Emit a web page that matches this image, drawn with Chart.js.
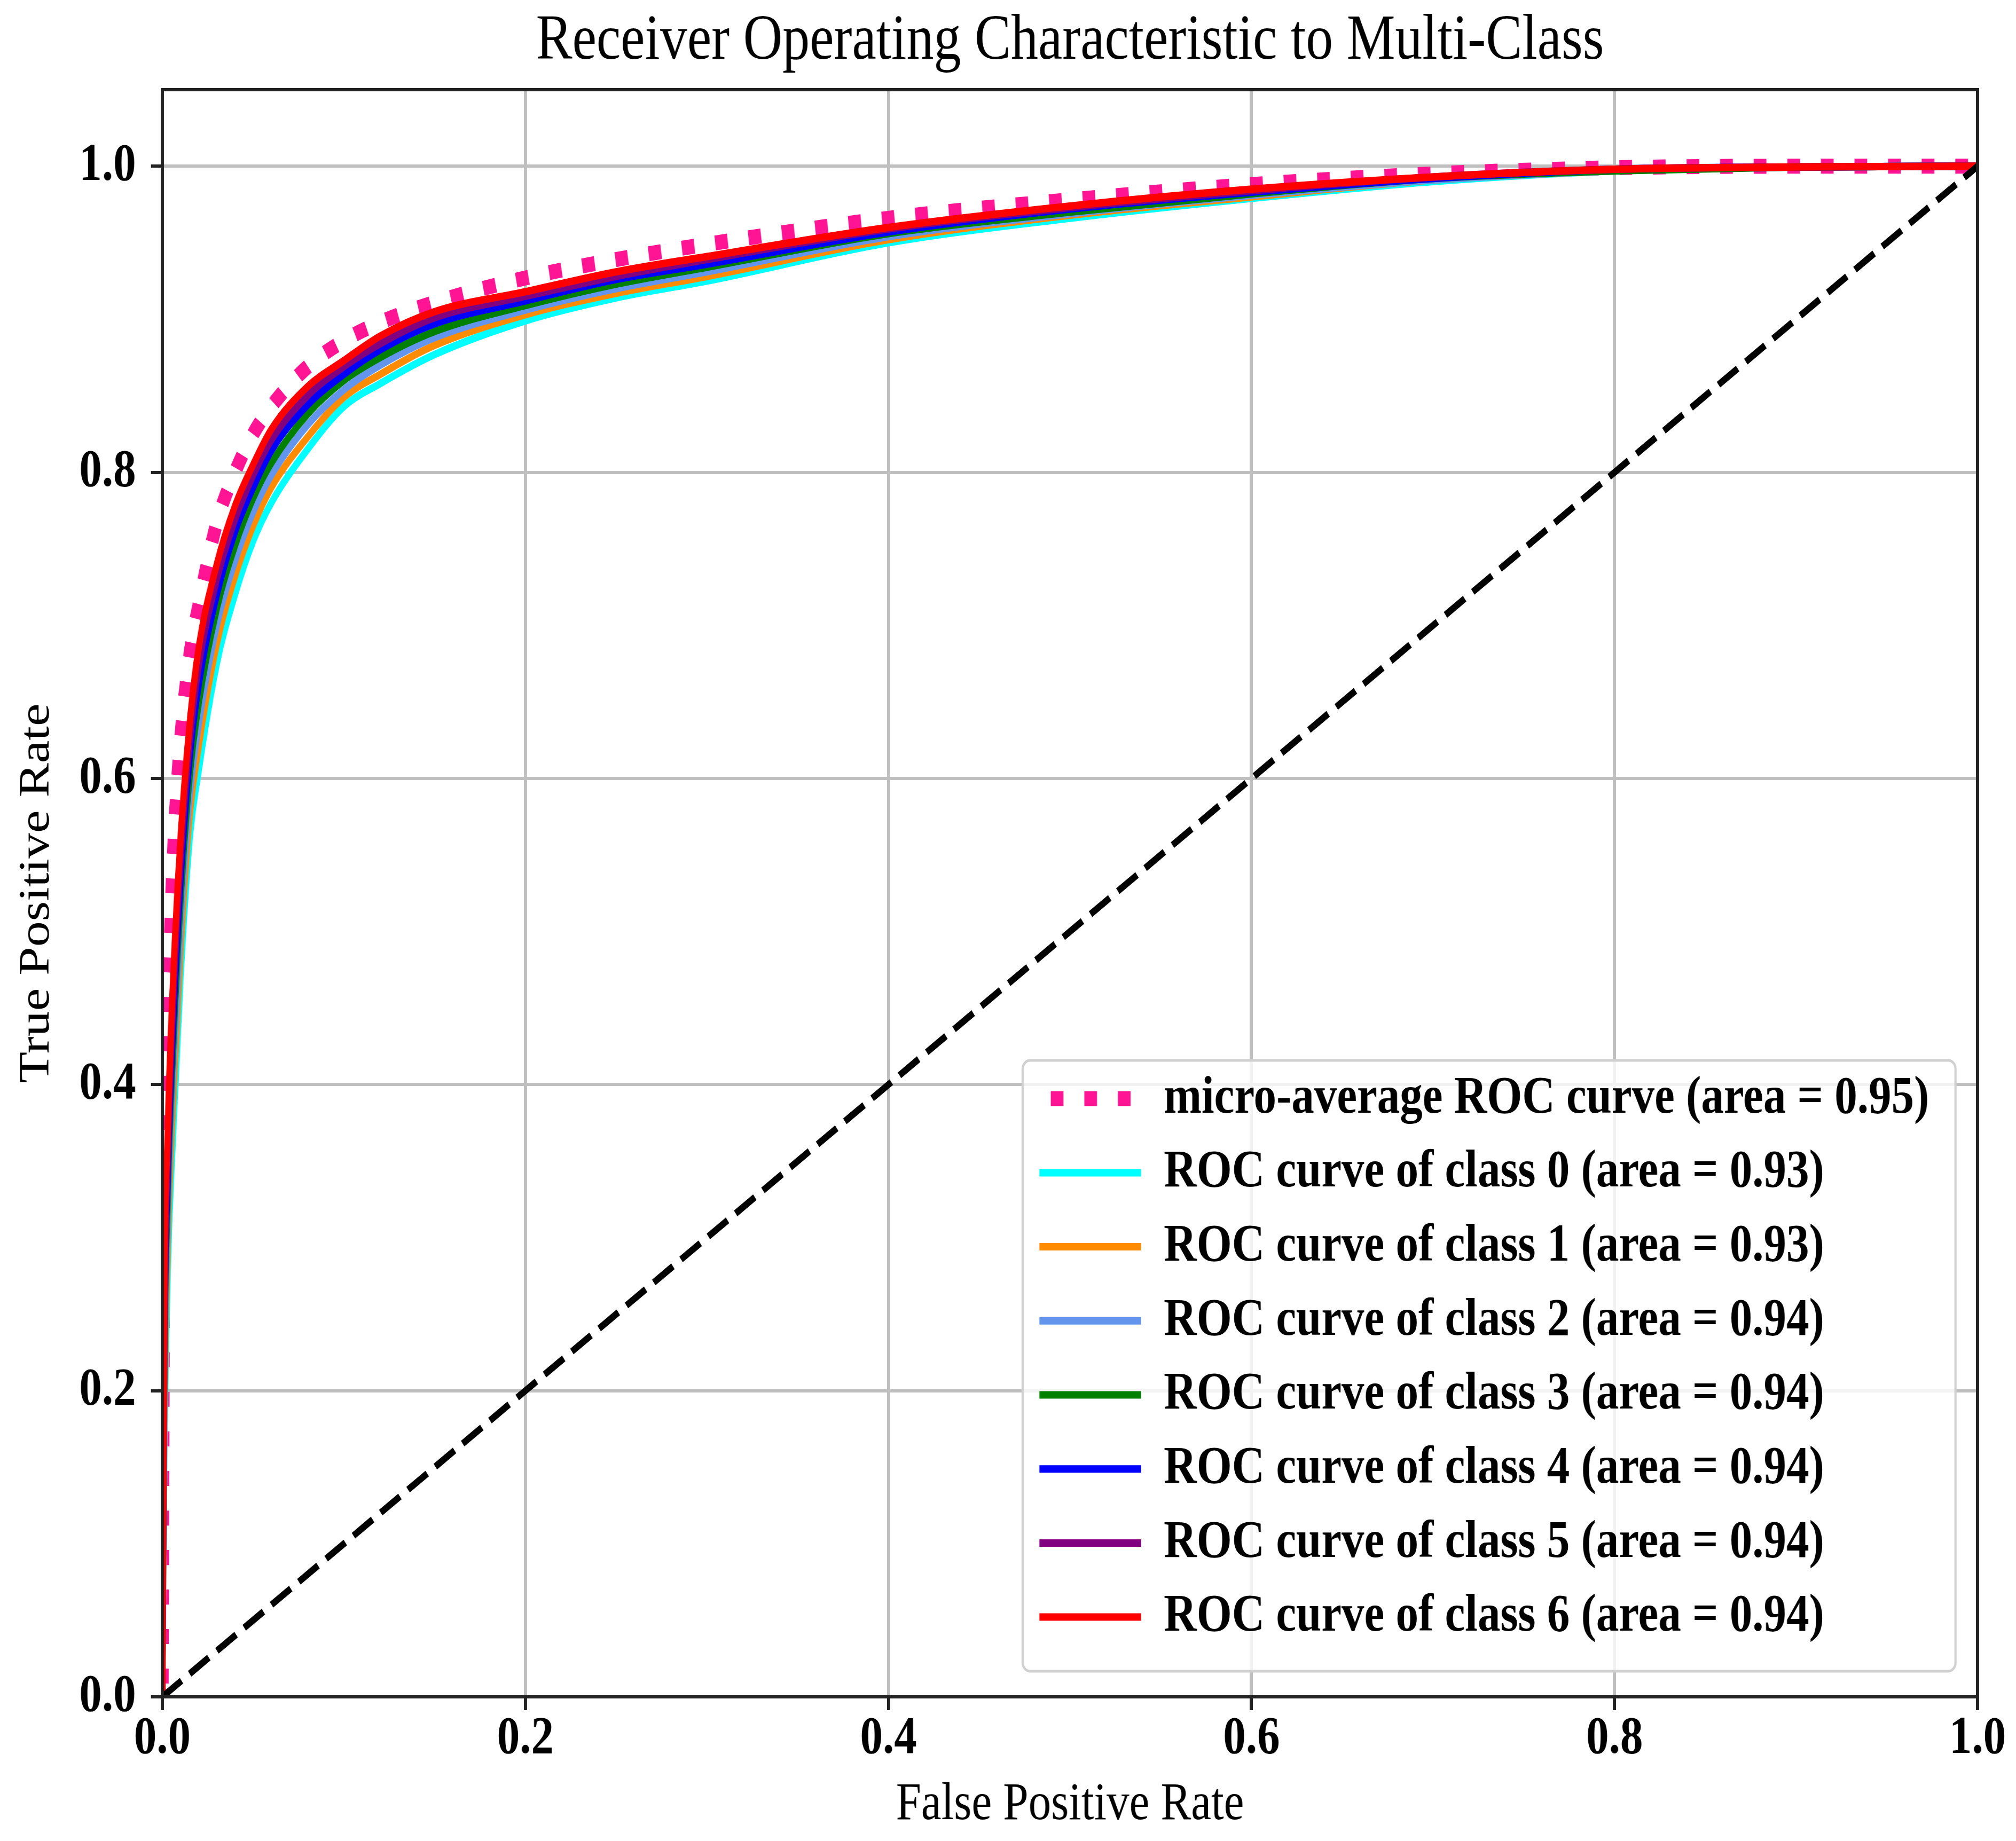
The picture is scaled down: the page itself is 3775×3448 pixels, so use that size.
<!DOCTYPE html>
<html>
<head>
<meta charset="utf-8">
<script src="https://cdn.jsdelivr.net/npm/chart.js@4.4.1/dist/chart.umd.min.js"></script>
<style>
html, body { margin: 0; padding: 0; background: #ffffff; overflow: hidden; width: 3775px; height: 3448px; }
#c { display: block; transform: scaleX(0.85); transform-origin: 0 0; }
</style>
</head>
<body>
<canvas id="c" width="4441" height="3448"></canvas>
<script>
// ---------------- data ----------------
const fpr = [0, 0.001, 0.003, 0.006, 0.01, 0.015, 0.02, 0.03, 0.04, 0.05, 0.06, 0.08, 0.1, 0.12, 0.15, 0.2, 0.25, 0.3, 0.4, 0.5, 0.6, 0.7, 0.8, 0.9, 1.0];

const tprMicro  = [0, 0.35, 0.45, 0.55, 0.625, 0.68, 0.713, 0.767, 0.8, 0.825, 0.843, 0.869, 0.886, 0.898, 0.911, 0.927, 0.939, 0.949, 0.966, 0.978, 0.988, 0.995, 0.999, 1.0, 1.0];
const tprClass0 = [0, 0.15, 0.28, 0.37, 0.47, 0.56, 0.605, 0.675, 0.72, 0.755, 0.78, 0.815, 0.843, 0.858, 0.877, 0.899, 0.914, 0.925, 0.950, 0.966, 0.979, 0.990, 0.997, 0.9995, 1.0];
const tprClass1 = [0, 0.17, 0.298, 0.39, 0.488, 0.575, 0.621, 0.688, 0.732, 0.765, 0.79, 0.823, 0.849, 0.864, 0.883, 0.903, 0.917, 0.928, 0.952, 0.968, 0.980, 0.991, 0.997, 0.9995, 1.0];
const tprClass2 = [0, 0.188, 0.314, 0.408, 0.504, 0.588, 0.635, 0.70, 0.742, 0.774, 0.798, 0.831, 0.854, 0.87, 0.888, 0.906, 0.92, 0.931, 0.954, 0.969, 0.981, 0.991, 0.997, 0.9995, 1.0];
const tprClass3 = [0, 0.205, 0.33, 0.425, 0.52, 0.601, 0.649, 0.711, 0.752, 0.783, 0.806, 0.838, 0.86, 0.875, 0.892, 0.909, 0.923, 0.934, 0.956, 0.970, 0.982, 0.992, 0.997, 0.9995, 1.0];
const tprClass4 = [0, 0.22, 0.343, 0.44, 0.533, 0.613, 0.661, 0.72, 0.761, 0.79, 0.814, 0.844, 0.864, 0.88, 0.897, 0.912, 0.926, 0.936, 0.957, 0.972, 0.983, 0.992, 0.998, 0.9995, 1.0];
const tprClass5 = [0, 0.235, 0.356, 0.455, 0.547, 0.624, 0.673, 0.730, 0.769, 0.798, 0.821, 0.850, 0.869, 0.884, 0.901, 0.915, 0.928, 0.939, 0.959, 0.973, 0.984, 0.993, 0.998, 0.9995, 1.0];
const tprClass6 = [0, 0.25, 0.37, 0.47, 0.56, 0.635, 0.685, 0.74, 0.778, 0.805, 0.828, 0.856, 0.873, 0.889, 0.905, 0.918, 0.931, 0.941, 0.960, 0.974, 0.985, 0.993, 0.998, 0.9995, 1.0];

const diagX = [0, 1];
const diagY = [0, 1];

const seriesLabels = [
  'micro-average ROC curve (area = 0.95)',
  'ROC curve of class 0 (area = 0.93)',
  'ROC curve of class 1 (area = 0.93)',
  'ROC curve of class 2 (area = 0.94)',
  'ROC curve of class 3 (area = 0.94)',
  'ROC curve of class 4 (area = 0.94)',
  'ROC curve of class 5 (area = 0.94)',
  'ROC curve of class 6 (area = 0.94)'
];

const xTicks = [0, 0.2, 0.4, 0.6, 0.8, 1.0];
const xTickLabels = ['0.0', '0.2', '0.4', '0.6', '0.8', '1.0'];
const yTicks = [0, 0.2, 0.4, 0.6, 0.8, 1.0];
const yTickLabels = ['0.0', '0.2', '0.4', '0.6', '0.8', '1.0'];

const titleText = 'Receiver Operating Characteristic to Multi-Class';
const xTitle = 'False Positive Rate';
const yTitle = 'True Positive Rate';

// ---------------- styling / layout ----------------
const W = 4441, H = 3448;                       // logical canvas (CSS compresses x by 0.85)
const AREA = { left: 357.6, right: 4356.5, top: 168, bottom: 3178 };
const LEGEND_BOX = { left: 2253, right: 4308, top: 1986, bottom: 3130 };
const LEGEND_PAD = 38.7;
const serif = "'Liberation Serif', 'Times New Roman', serif";
const classColors = ['#00ffff', '#ff8c00', '#6495ed', '#008000', '#0000ff', '#800080', '#ff0000'];
const classTpr = [tprClass0, tprClass1, tprClass2, tprClass3, tprClass4, tprClass5, tprClass6];

function toPoints(xs, ys) { return xs.map((x, i) => ({ x: x, y: ys[i] })); }

const datasets = [];
datasets.push({
  label: seriesLabels[0], data: toPoints(fpr, tprMicro),
  borderColor: '#ff1493', backgroundColor: '#ff1493',
  borderWidth: 28, borderDash: [28, 46], borderDashOffset: 49, order: 8
});
classTpr.forEach((t, i) => {
  datasets.push({
    label: seriesLabels[i + 1], data: toPoints(fpr, t),
    borderColor: classColors[i], backgroundColor: classColors[i],
    borderWidth: 14, order: 7 - i
  });
});
datasets.push({
  label: 'chance', data: toPoints(diagX, diagY),
  borderColor: '#000000', backgroundColor: '#000000',
  borderWidth: 13, borderDash: [52, 22], order: 0, cubicInterpolationMode: 'default'
});
datasets.forEach(d => {
  d.showLine = true; d.pointRadius = 0; d.pointHoverRadius = 0; d.fill = false;
  if (!d.cubicInterpolationMode) d.cubicInterpolationMode = 'monotone';
});

function drawRoundRect(ctx, x, y, w, h, r) {
  ctx.beginPath();
  ctx.moveTo(x + r, y);
  ctx.lineTo(x + w - r, y);
  ctx.arcTo(x + w, y, x + w, y + r, r);
  ctx.lineTo(x + w, y + h - r);
  ctx.arcTo(x + w, y + h, x + w - r, y + h, r);
  ctx.lineTo(x + r, y + h);
  ctx.arcTo(x, y + h, x, y + h - r, r);
  ctx.lineTo(x, y + r);
  ctx.arcTo(x, y, x + r, y, r);
  ctx.closePath();
}

const legendPlacer = {
  id: 'legendPlacer',
  afterLayout(chart) {
    const lg = chart.legend;
    if (!lg) return;
    lg.left = LEGEND_BOX.left - 2;
    lg.top = LEGEND_BOX.top + 21.7 - LEGEND_PAD;
    lg.right = LEGEND_BOX.right + 30;
    lg.bottom = LEGEND_BOX.bottom + 60;
    lg.width = lg.right - lg.left;
    lg.height = lg.bottom - lg.top;
    if (!lg._framed) {
      const orig = lg.draw.bind(lg);
      lg.draw = function (area) {
        const ctx = chart.ctx;
        ctx.save();
        drawRoundRect(ctx, LEGEND_BOX.left, LEGEND_BOX.top, LEGEND_BOX.right - LEGEND_BOX.left, LEGEND_BOX.bottom - LEGEND_BOX.top, 16);
        ctx.fillStyle = 'rgba(255,255,255,0.8)';
        ctx.fill();
        ctx.lineWidth = 5;
        ctx.strokeStyle = '#d0d0d0';
        ctx.stroke();
        ctx.restore();
        orig(area);
      };
      lg._framed = true;
    }
  }
};

const spines = {
  id: 'spines',
  afterDatasetsDraw(chart) {
    const { ctx, chartArea: a } = chart;
    const hw = 6, vw = 7;
    ctx.save();
    ctx.fillStyle = '#222222';
    ctx.fillRect(a.left - vw / 2, a.top - hw / 2, a.right - a.left + vw, hw);
    ctx.fillRect(a.left - vw / 2, a.bottom - hw / 2, a.right - a.left + vw, hw);
    ctx.fillRect(a.left - vw / 2, a.top - hw / 2, vw, a.bottom - a.top + hw);
    ctx.fillRect(a.right - vw / 2, a.top - hw / 2, vw, a.bottom - a.top + hw);
    ctx.restore();
  }
};

const tickFont = { family: serif, size: 100, weight: 'bold', lineHeight: 1 };

new Chart(document.getElementById('c'), {
  type: 'scatter',
  data: { datasets: datasets },
  options: {
    responsive: false,
    animation: false,
    devicePixelRatio: 1,
    events: [],
    layout: { padding: { left: 0, right: W - AREA.right, top: 0, bottom: 0 } },
    scales: {
      x: {
        type: 'linear', min: 0, max: 1,
        afterBuildTicks: s => { s.ticks = xTicks.map(v => ({ value: v })); },
        afterFit: s => { s.height = H - AREA.bottom; },
        grid: { color: '#bfbfbf', lineWidth: 7, drawTicks: true, tickLength: 25, tickWidth: 7, tickColor: '#222222' },
        border: { display: false },
        ticks: { callback: (v, i) => xTickLabels[i], font: tickFont, color: '#000000', padding: 4, maxRotation: 0, autoSkip: false },
        title: { display: true, text: xTitle, font: { family: serif, size: 100, weight: 'normal' }, color: '#000000', padding: { top: 0, bottom: 7 } }
      },
      y: {
        type: 'linear', min: 0, max: 1.05,
        afterBuildTicks: s => { s.ticks = yTicks.map(v => ({ value: v })); },
        afterFit: s => { s.width = AREA.left; },
        grid: { color: '#bfbfbf', lineWidth: 6, drawTicks: true, tickLength: 25, tickWidth: 6, tickColor: '#222222' },
        border: { display: false },
        ticks: { callback: (v, i) => yTickLabels[i], font: tickFont, color: '#000000', padding: 33, autoSkip: false },
        title: { display: true, text: yTitle, font: { family: serif, size: 96, weight: 'normal' }, color: '#000000', padding: { top: 24, bottom: 0 } }
      }
    },
    plugins: {
      title: {
        display: true, text: titleText, fullSize: false,
        font: { family: serif, size: 120, weight: 'normal' }, color: '#000000',
        padding: { top: 6, bottom: 18 }
      },
      legend: {
        display: true, position: 'chartArea', align: 'start',
        labels: {
          boxWidth: 224, boxHeight: 0, padding: LEGEND_PAD,
          font: { family: serif, size: 100, weight: 'bold' }, color: '#000000',
          filter: item => item.datasetIndex < seriesLabels.length,
          sort: (a, b) => a.datasetIndex - b.datasetIndex
        }
      },
      tooltip: { enabled: false }
    }
  },
  plugins: [legendPlacer, spines]
});
</script>
</body>
</html>
